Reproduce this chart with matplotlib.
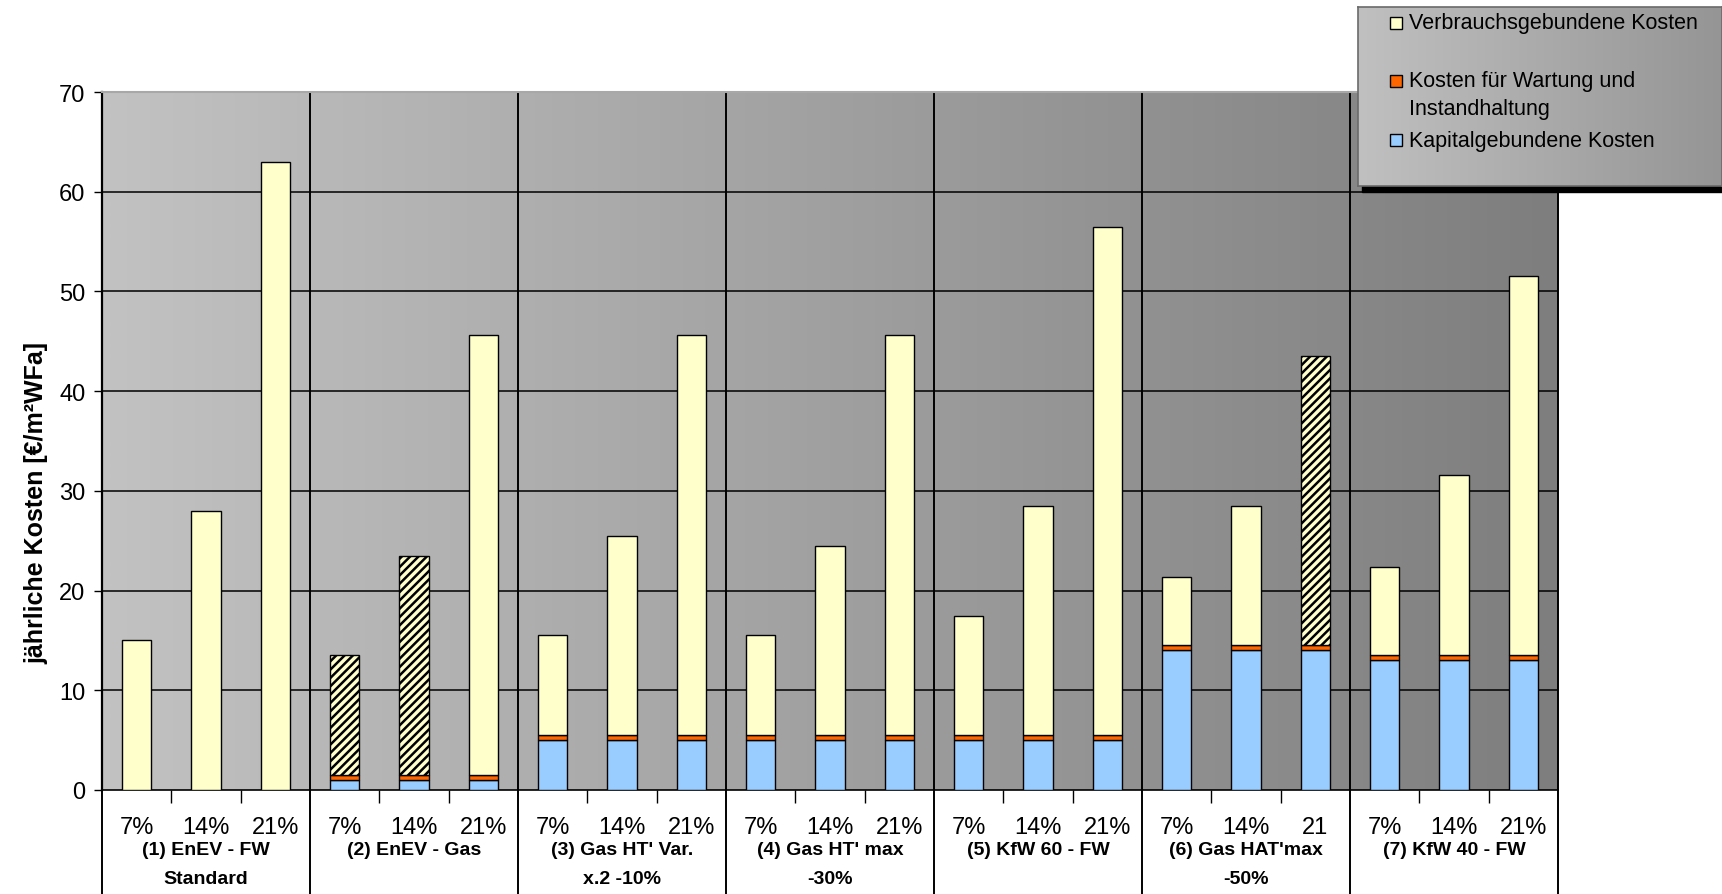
import numpy as np
import matplotlib
matplotlib.use("Agg")
import matplotlib.pyplot as plt
from matplotlib.patches import Rectangle
from matplotlib import transforms
from matplotlib.colors import LinearSegmentedColormap

# ---------------- data ----------------
group_labels = ["(1) EnEV - FW\nStandard", "(2) EnEV - Gas", "(3) Gas HT' Var.\nx.2 -10%",
                "(4) Gas HT' max\n-30%", "(5) KfW 60 - FW", "(6) Gas HAT'max\n-50%",
                "(7) KfW 40 - FW"]
bar_labels = ["7%", "14%", "21%", "7%", "14%", "21%", "7%", "14%", "21%",
              "7%", "14%", "21%", "7%", "14%", "21%", "7%", "14%", "21",
              "7%", "14%", "21%"]
kapital = [0, 0, 0, 1, 1, 1, 5, 5, 5, 5, 5, 5, 5, 5, 5, 14, 14, 14, 13, 13, 13]
wartung = [0, 0, 0, 0.5, 0.5, 0.5, 0.5, 0.5, 0.5, 0.5, 0.5, 0.5, 0.5, 0.5, 0.5,
           0.5, 0.5, 0.5, 0.5, 0.5, 0.5]
verbrauch = [15, 28, 63, 12, 22, 44.1, 10, 20, 40.1, 10, 19, 40.1, 12, 23, 51,
             6.9, 14, 29, 8.9, 18.1, 38]
hatched = [False, False, False, True, True, False, False, False, False, False, False, False,
           False, False, False, False, False, True, False, False, False]
legend_labels = ["Verbrauchsgebundene Kosten", "Kosten für Wartung und\nInstandhaltung",
                 "Kapitalgebundene Kosten"]
yticks = [0, 10, 20, 30, 40, 50, 60, 70]

c_yellow = "#FFFFCC"
c_orange = "#FF6600"
c_blue = "#99CCFF"

plt.rcParams['font.family'] = ['Liberation Sans', 'DejaVu Sans']
plt.rcParams['hatch.linewidth'] = 1.8

W, H = 1722, 895
fig = plt.figure(figsize=(W / 100, H / 100), dpi=100)
ax = fig.add_axes([102 / W, 1 - 791 / H, (1558 - 102) / W, (791 - 93) / H])

n = len(kapital)
x = np.arange(n)
ax.set_xlim(-0.5, n - 0.5)
ax.set_ylim(0, 70)

# gradient background
grad = np.linspace(0, 1, 256)[None, :]
cm_bg = LinearSegmentedColormap.from_list("bg", ["#c2c2c2", "#7e7e7e"])
ax.imshow(grad, extent=[-0.5, n - 0.5, 0, 70], aspect='auto', cmap=cm_bg, zorder=0,
          interpolation='bilinear')

# grid
for yv in yticks[1:-1]:
    ax.axhline(yv, color='black', lw=1.1, zorder=1)

# group separators (extend below the axis)
blend = transforms.blended_transform_factory(ax.transData, ax.transAxes)
for gb in np.arange(-0.5, n, 3):
    ax.plot([gb, gb], [-0.2, 1], color='black', lw=1.4, transform=blend,
            clip_on=False, zorder=2)

bw = 0.42
ek = dict(edgecolor='black', linewidth=1.0, zorder=3)
ax.bar(x, kapital, bw, color=c_blue, **ek)
ax.bar(x, wartung, bw, bottom=kapital, color=c_orange, **ek)
bottom2 = np.array(kapital) + np.array(wartung)
bars = ax.bar(x, verbrauch, bw, bottom=bottom2, color=c_yellow, **ek)
for b, h in zip(bars, hatched):
    if h:
        b.set_hatch('////')

# axes styling
ax.spines['top'].set_color('#a8a8a8')
ax.spines['top'].set_linewidth(1.5)
ax.spines['right'].set_visible(False)
ax.spines['left'].set_linewidth(1.6)
ax.spines['bottom'].set_linewidth(1.2)
ax.set_yticks(yticks)
ax.set_yticklabels([str(v) for v in yticks], fontsize=17)
ax.tick_params(axis='y', direction='out', length=6, width=1, pad=6)
minor = [i + 0.5 for i in range(n - 1) if (i + 1) % 3 != 0]
ax.set_xticks(minor)
ax.set_xticklabels([])
ax.tick_params(axis='x', direction='out', length=9, width=1)

ax.set_ylabel("jährliche Kosten [€/m²WFa]", fontsize=18, fontweight='bold', labelpad=10)
ax.yaxis.set_label_coords(-0.037, 0.413)

# category labels
tb = transforms.blended_transform_factory(ax.transData, fig.transFigure)
for xi, lab in zip(x, bar_labels):
    ax.text(xi, 1 - 828 / H, lab, transform=tb, ha='center', va='center', fontsize=17)
for gi, lab in enumerate(group_labels):
    lines = lab.split("\n")
    for li, line in enumerate(lines):
        ax.text(gi * 3 + 1, 1 - (851 + li * 29) / H, line, transform=tb, ha='center',
                va='center', fontsize=14, fontweight='bold')

# legend (drawn manually to match layout)
lx0, ly0, lx1, ly1 = 1358, 8, 1722, 187
fig.patches.append(Rectangle(((lx0 + 4) / W, 1 - (ly1 + 6) / H), (lx1 - lx0) / W, 7 / H,
                             transform=fig.transFigure, color='black', zorder=5))
lax = fig.add_axes([lx0 / W, 1 - ly1 / H, (lx1 - lx0) / W, (ly1 - ly0) / H], zorder=6)
cm_lg = LinearSegmentedColormap.from_list("lg", ["#c0c0c0", "#959595"])
lax.imshow(grad, extent=[0, 1, 0, 1], aspect='auto', cmap=cm_lg, interpolation='bilinear')
lax.set_xlim(0, 1)
lax.set_ylim(0, 1)
lax.set_xticks([])
lax.set_yticks([])
for s in lax.spines.values():
    s.set_color('#6a6a6a')
    s.set_linewidth(1.2)

entries = [(c_yellow, 24, [legend_labels[0]]),
           (c_orange, 82, legend_labels[1].split("\n")),
           (c_blue, 141, [legend_labels[2]])]
for col, yc, lines in entries:
    sq = 12
    fig.patches.append(Rectangle((1390 / W, 1 - (yc + sq / 2) / H), sq / W, sq / H,
                                 transform=fig.transFigure, facecolor=col,
                                 edgecolor='black', linewidth=1.0, zorder=7))
    for li, line in enumerate(lines):
        fig.text(1409 / W, 1 - (yc + li * 27) / H, line, ha='left', va='center',
                 fontsize=15.5, zorder=8)

fig.savefig("out.png", dpi=100)
